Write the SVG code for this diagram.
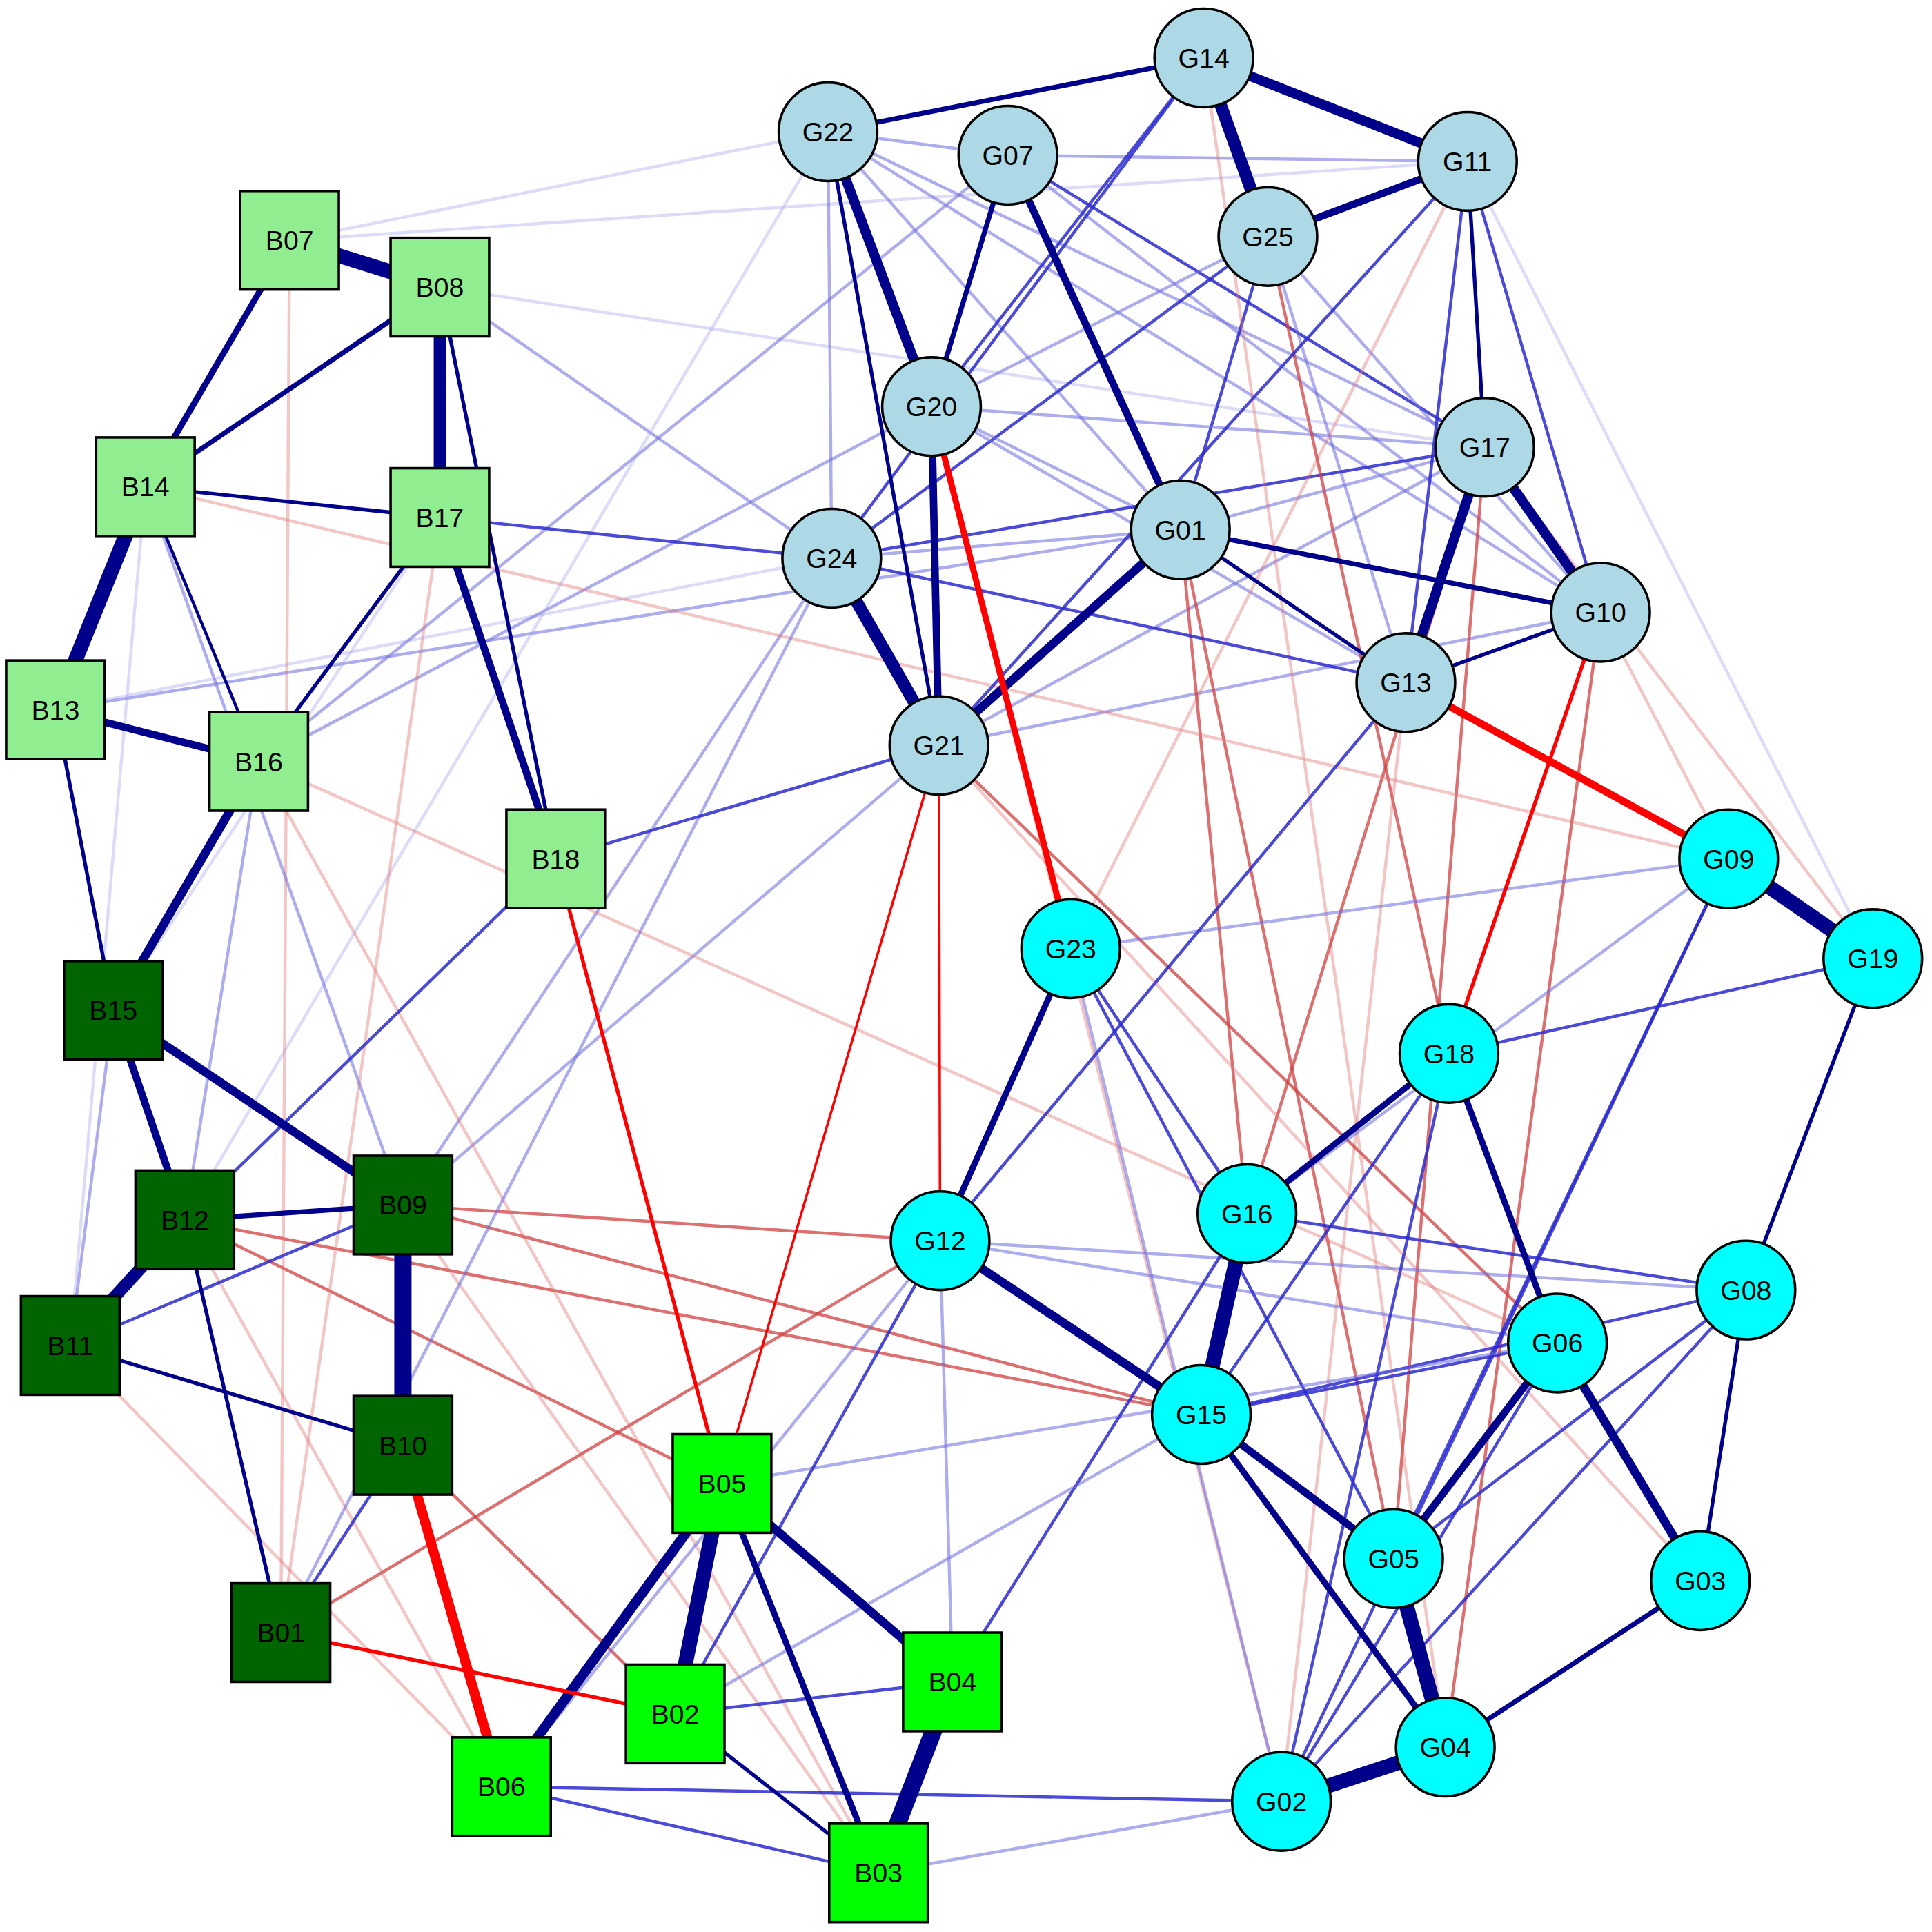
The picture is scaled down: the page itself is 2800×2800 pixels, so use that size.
<svg xmlns="http://www.w3.org/2000/svg" width="2800" height="2800" viewBox="0 0 2800 2800">
<style>
line{stroke-linecap:round}
.b1{stroke:#00008B}
.b2{stroke:#2a2ad0;stroke-opacity:.85;stroke-width:2.5}
.b3{stroke:#6a6ae0;stroke-opacity:.55;stroke-width:2.5}
.b4{stroke:#9a9aea;stroke-opacity:.35;stroke-width:2.5}
.r1{stroke:#ff0000}
.r2{stroke:#d04040;stroke-opacity:.75;stroke-width:2.5}
.r3{stroke:#e07070;stroke-opacity:.4;stroke-width:2.5}
rect,circle{stroke:#000;stroke-width:2}
.lg{fill:#90EE90}.dg{fill:#006400}.bg{fill:#00FF00}.lb{fill:#ADD8E6}.cy{fill:#00FFFF}
text{font-family:"Liberation Sans",Arial,sans-serif;font-size:22px;text-anchor:middle;dominant-baseline:central;fill:#000}
</style>
<rect x="0" y="0" width="2800" height="2800" fill="#fff" style="stroke:none"/>
<g transform="scale(1.7857)">
<g id="connectors">
<!-- faint -->
<line class="b4" x1="235" y1="195" x2="1191" y2="131"/>
<line class="b4" x1="235" y1="195" x2="672" y2="107"/>
<line class="b3" x1="45" y1="576" x2="958" y2="430"/>
<line class="b4" x1="45" y1="576" x2="675" y2="453"/>
<line class="b3" x1="357" y1="233" x2="675" y2="453"/>
<line class="b4" x1="357" y1="233" x2="1205" y2="363"/>
<line class="b3" x1="210" y1="618" x2="756" y2="330"/>
<line class="b3" x1="210" y1="618" x2="818" y2="126"/>
<line class="b3" x1="327" y1="978" x2="675" y2="453"/>
<line class="b3" x1="327" y1="978" x2="762" y2="605"/>
<line class="b4" x1="150" y1="990" x2="672" y2="107"/>
<line class="b4" x1="57" y1="1092" x2="118" y2="395"/>
<line class="b4" x1="92" y1="820" x2="357" y2="420"/>
<line class="b3" x1="672" y1="107" x2="818" y2="126"/>
<line class="b3" x1="672" y1="107" x2="1205" y2="363"/>
<line class="b3" x1="672" y1="107" x2="958" y2="430"/>
<line class="b3" x1="672" y1="107" x2="1299" y2="497"/>
<line class="b3" x1="672" y1="107" x2="675" y2="453"/>
<line class="b3" x1="818" y1="126" x2="1191" y2="131"/>
<line class="b2" x1="818" y1="126" x2="1205" y2="363"/>
<line class="b3" x1="818" y1="126" x2="1299" y2="497"/>
<line class="b2" x1="977" y1="47" x2="756" y2="330"/>
<line class="b2" x1="977" y1="47" x2="675" y2="453"/>
<line class="b3" x1="1029" y1="192" x2="756" y2="330"/>
<line class="b2" x1="1029" y1="192" x2="675" y2="453"/>
<line class="b2" x1="1029" y1="192" x2="958" y2="430"/>
<line class="b3" x1="1029" y1="192" x2="1141" y2="554"/>
<line class="b3" x1="1029" y1="192" x2="1299" y2="497"/>
<line class="b3" x1="756" y1="330" x2="1205" y2="363"/>
<line class="b3" x1="756" y1="330" x2="958" y2="430"/>
<line class="b3" x1="756" y1="330" x2="1141" y2="554"/>
<line class="b2" x1="675" y1="453" x2="1205" y2="363"/>
<line class="b3" x1="675" y1="453" x2="958" y2="430"/>
<line class="b3" x1="762" y1="605" x2="1205" y2="363"/>
<line class="b3" x1="762" y1="605" x2="1299" y2="497"/>
<line class="b3" x1="958" y1="430" x2="1205" y2="363"/>
<line class="b4" x1="977" y1="47" x2="1191" y2="131"/>
<line class="b4" x1="1191" y1="131" x2="1520" y2="778"/>
<line class="r3" x1="977" y1="47" x2="1173" y2="1418"/>
<line class="r3" x1="1191" y1="131" x2="869" y2="770"/>
<line class="r2" x1="1029" y1="192" x2="1176" y2="855"/>
<line class="r2" x1="1205" y1="363" x2="1012" y2="985"/>
<line class="r2" x1="1205" y1="363" x2="1131" y2="1265"/>
<line class="r3" x1="1205" y1="363" x2="1520" y2="778"/>
<line class="r2" x1="958" y1="430" x2="1012" y2="985"/>
<line class="r2" x1="958" y1="430" x2="1131" y2="1265"/>
<line class="r2" x1="1299" y1="497" x2="1173" y2="1418"/>
<line class="r3" x1="1299" y1="497" x2="1403" y2="697"/>
<line class="r3" x1="1141" y1="554" x2="1040" y2="1462"/>
<line class="r3" x1="762" y1="605" x2="1380" y2="1283"/>
<line class="r2" x1="762" y1="605" x2="1264" y2="1090"/>
<line class="r3" x1="756" y1="330" x2="1040" y2="1462"/>
<line class="r2" x1="327" y1="978" x2="763" y2="1007"/>
<line class="r2" x1="327" y1="978" x2="975" y2="1148"/>
<line class="r2" x1="150" y1="990" x2="975" y2="1148"/>
<line class="r2" x1="150" y1="990" x2="586" y2="1204"/>
<line class="r2" x1="228" y1="1325" x2="763" y2="1007"/>
<line class="r2" x1="327" y1="1173" x2="548" y2="1391"/>
<line class="r3" x1="327" y1="978" x2="713" y2="1520"/>
<line class="r3" x1="118" y1="395" x2="1403" y2="697"/>
<line class="r3" x1="357" y1="420" x2="228" y2="1325"/>
<line class="r3" x1="210" y1="618" x2="713" y2="1520"/>
<line class="r3" x1="210" y1="618" x2="1264" y2="1090"/>
<line class="r3" x1="235" y1="195" x2="228" y2="1325"/>
<line class="r3" x1="57" y1="1092" x2="407" y2="1450"/>
<line class="r3" x1="150" y1="990" x2="407" y2="1450"/>
<line class="b3" x1="763" y1="1007" x2="1417" y2="1047"/>
<line class="b3" x1="763" y1="1007" x2="1264" y2="1090"/>
<line class="b2" x1="1012" y1="985" x2="1417" y2="1047"/>
<line class="b2" x1="975" y1="1148" x2="1264" y2="1090"/>
<line class="b2" x1="975" y1="1148" x2="1417" y2="1047"/>
<line class="b3" x1="1403" y1="697" x2="1012" y2="985"/>
<line class="b2" x1="1403" y1="697" x2="1131" y2="1265"/>
<line class="b2" x1="1403" y1="697" x2="1040" y2="1462"/>
<line class="b2" x1="1417" y1="1047" x2="1040" y2="1462"/>
<line class="b2" x1="1417" y1="1047" x2="1131" y2="1265"/>
<line class="b2" x1="1264" y1="1090" x2="1040" y2="1462"/>
<line class="b2" x1="1176" y1="855" x2="1040" y2="1462"/>
<line class="b2" x1="1176" y1="855" x2="1520" y2="778"/>
<line class="b3" x1="869" y1="770" x2="1403" y2="697"/>
<line class="b2" x1="869" y1="770" x2="1131" y2="1265"/>
<line class="b3" x1="869" y1="770" x2="1040" y2="1462"/>
<line class="b3" x1="586" y1="1204" x2="1264" y2="1090"/>
<line class="b2" x1="773" y1="1365" x2="1012" y2="985"/>
<line class="b2" x1="548" y1="1391" x2="763" y2="1007"/>
<line class="b2" x1="407" y1="1450" x2="1040" y2="1462"/>
<line class="b3" x1="713" y1="1520" x2="1040" y2="1462"/>
<line class="b3" x1="548" y1="1391" x2="975" y2="1148"/>
<line class="b3" x1="407" y1="1450" x2="763" y2="1007"/>
<line class="b3" x1="773" y1="1365" x2="763" y2="1007"/>
<line class="b3" x1="228" y1="1325" x2="675" y2="453"/>
<line class="b3" x1="118" y1="395" x2="327" y2="978"/>
<line class="b3" x1="210" y1="618" x2="150" y2="990"/>
<line class="b3" x1="92" y1="820" x2="57" y2="1092"/>
<!-- medium -->
<line class="b2" x1="357" y1="420" x2="675" y2="453"/>
<line class="b2" x1="451" y1="697" x2="762" y2="605"/>
<line class="b2" x1="150" y1="990" x2="451" y2="697"/>
<line class="b2" x1="57" y1="1092" x2="327" y2="978"/>
<line class="b2" x1="228" y1="1325" x2="327" y2="1173"/>
<line class="b2" x1="1191" y1="131" x2="762" y2="605"/>
<line class="b2" x1="1141" y1="554" x2="763" y2="1007"/>
<line class="b2" x1="869" y1="770" x2="1012" y2="985"/>
<line class="b2" x1="1191" y1="131" x2="1141" y2="554"/>
<line class="b2" x1="1191" y1="131" x2="1299" y2="497"/>
<line class="b2" x1="675" y1="453" x2="1141" y2="554"/>
<line class="b2" x1="548" y1="1391" x2="773" y2="1365"/>
<line class="b2" x1="407" y1="1450" x2="713" y2="1520"/>
<line class="b2" x1="1176" y1="855" x2="975" y2="1148"/>
<!-- strong -->
<g class="b1">
<line x1="235" y1="195" x2="357" y2="233" stroke-width="12"/>
<line x1="357" y1="233" x2="357" y2="420" stroke-width="10"/>
<line x1="118" y1="395" x2="45" y2="576" stroke-width="12"/>
<line x1="235" y1="195" x2="118" y2="395" stroke-width="5"/>
<line x1="357" y1="233" x2="118" y2="395" stroke-width="4"/>
<line x1="357" y1="233" x2="451" y2="697" stroke-width="3"/>
<line x1="357" y1="420" x2="451" y2="697" stroke-width="6"/>
<line x1="357" y1="420" x2="210" y2="618" stroke-width="3"/>
<line x1="118" y1="395" x2="357" y2="420" stroke-width="3"/>
<line x1="118" y1="395" x2="210" y2="618" stroke-width="2.5"/>
<line x1="45" y1="576" x2="210" y2="618" stroke-width="6"/>
<line x1="210" y1="618" x2="92" y2="820" stroke-width="7"/>
<line x1="45" y1="576" x2="92" y2="820" stroke-width="3"/>
<line x1="92" y1="820" x2="150" y2="990" stroke-width="6"/>
<line x1="92" y1="820" x2="327" y2="978" stroke-width="7"/>
<line x1="150" y1="990" x2="57" y2="1092" stroke-width="10"/>
<line x1="150" y1="990" x2="327" y2="978" stroke-width="4"/>
<line x1="327" y1="978" x2="327" y2="1173" stroke-width="14"/>
<line x1="57" y1="1092" x2="327" y2="1173" stroke-width="3"/>
<line x1="150" y1="990" x2="228" y2="1325" stroke-width="3"/>
<line x1="586" y1="1204" x2="548" y2="1391" stroke-width="12"/>
<line x1="586" y1="1204" x2="407" y2="1450" stroke-width="8"/>
<line x1="586" y1="1204" x2="713" y2="1520" stroke-width="5"/>
<line x1="586" y1="1204" x2="773" y2="1365" stroke-width="7"/>
<line x1="773" y1="1365" x2="713" y2="1520" stroke-width="14"/>
<line x1="548" y1="1391" x2="713" y2="1520" stroke-width="3"/>
<line x1="672" y1="107" x2="977" y2="47" stroke-width="4"/>
<line x1="977" y1="47" x2="1191" y2="131" stroke-width="8"/>
<line x1="977" y1="47" x2="1029" y2="192" stroke-width="10"/>
<line x1="1029" y1="192" x2="1191" y2="131" stroke-width="6"/>
<line x1="672" y1="107" x2="756" y2="330" stroke-width="8"/>
<line x1="672" y1="107" x2="762" y2="605" stroke-width="3"/>
<line x1="818" y1="126" x2="756" y2="330" stroke-width="4"/>
<line x1="818" y1="126" x2="958" y2="430" stroke-width="6"/>
<line x1="756" y1="330" x2="762" y2="605" stroke-width="6"/>
<line x1="675" y1="453" x2="762" y2="605" stroke-width="10"/>
<line x1="958" y1="430" x2="762" y2="605" stroke-width="7"/>
<line x1="958" y1="430" x2="1299" y2="497" stroke-width="4"/>
<line x1="958" y1="430" x2="1141" y2="554" stroke-width="3"/>
<line x1="1191" y1="131" x2="1205" y2="363" stroke-width="3"/>
<line x1="1205" y1="363" x2="1299" y2="497" stroke-width="8"/>
<line x1="1205" y1="363" x2="1141" y2="554" stroke-width="8"/>
<line x1="1141" y1="554" x2="1299" y2="497" stroke-width="3"/>
<line x1="1403" y1="697" x2="1520" y2="778" stroke-width="12"/>
<line x1="1520" y1="778" x2="1417" y2="1047" stroke-width="3"/>
<line x1="869" y1="770" x2="763" y2="1007" stroke-width="5"/>
<line x1="763" y1="1007" x2="975" y2="1148" stroke-width="7"/>
<line x1="1176" y1="855" x2="1012" y2="985" stroke-width="5"/>
<line x1="1176" y1="855" x2="1264" y2="1090" stroke-width="5"/>
<line x1="1012" y1="985" x2="975" y2="1148" stroke-width="12"/>
<line x1="975" y1="1148" x2="1131" y2="1265" stroke-width="6"/>
<line x1="975" y1="1148" x2="1173" y2="1418" stroke-width="5"/>
<line x1="1264" y1="1090" x2="1131" y2="1265" stroke-width="6"/>
<line x1="1264" y1="1090" x2="1380" y2="1283" stroke-width="7"/>
<line x1="1131" y1="1265" x2="1173" y2="1418" stroke-width="12"/>
<line x1="1173" y1="1418" x2="1040" y2="1462" stroke-width="12"/>
<line x1="1173" y1="1418" x2="1380" y2="1283" stroke-width="4"/>
<line x1="1417" y1="1047" x2="1380" y2="1283" stroke-width="3"/>
</g>
<g class="r1">
<line x1="327" y1="1173" x2="407" y2="1450" stroke-width="8"/>
<line x1="228" y1="1325" x2="548" y2="1391" stroke-width="3"/>
<line x1="451" y1="697" x2="586" y2="1204" stroke-width="3"/>
<line x1="762" y1="605" x2="586" y2="1204" stroke-width="2"/>
<line x1="762" y1="605" x2="763" y2="1007" stroke-width="2"/>
<line x1="756" y1="330" x2="869" y2="770" stroke-width="5"/>
<line x1="1141" y1="554" x2="1403" y2="697" stroke-width="6"/>
<line x1="1299" y1="497" x2="1176" y2="855" stroke-width="3"/>
</g>
</g>
<g id="B07"><rect class="lg" x="195" y="155" width="80" height="80"/><text x="235" y="195">B07</text></g>
<g id="B08"><rect class="lg" x="317" y="193" width="80" height="80"/><text x="357" y="233">B08</text></g>
<g id="B14"><rect class="lg" x="78" y="355" width="80" height="80"/><text x="118" y="395">B14</text></g>
<g id="B17"><rect class="lg" x="317" y="380" width="80" height="80"/><text x="357" y="420">B17</text></g>
<g id="B13"><rect class="lg" x="5" y="536" width="80" height="80"/><text x="45" y="576">B13</text></g>
<g id="B16"><rect class="lg" x="170" y="578" width="80" height="80"/><text x="210" y="618">B16</text></g>
<g id="B18"><rect class="lg" x="411" y="657" width="80" height="80"/><text x="451" y="697">B18</text></g>
<g id="B15"><rect class="dg" x="52" y="780" width="80" height="80"/><text x="92" y="820">B15</text></g>
<g id="B12"><rect class="dg" x="110" y="950" width="80" height="80"/><text x="150" y="990">B12</text></g>
<g id="B09"><rect class="dg" x="287" y="938" width="80" height="80"/><text x="327" y="978">B09</text></g>
<g id="B11"><rect class="dg" x="17" y="1052" width="80" height="80"/><text x="57" y="1092">B11</text></g>
<g id="B10"><rect class="dg" x="287" y="1133" width="80" height="80"/><text x="327" y="1173">B10</text></g>
<g id="B01"><rect class="dg" x="188" y="1285" width="80" height="80"/><text x="228" y="1325">B01</text></g>
<g id="B05"><rect class="bg" x="546" y="1164" width="80" height="80"/><text x="586" y="1204">B05</text></g>
<g id="B02"><rect class="bg" x="508" y="1351" width="80" height="80"/><text x="548" y="1391">B02</text></g>
<g id="B04"><rect class="bg" x="733" y="1325" width="80" height="80"/><text x="773" y="1365">B04</text></g>
<g id="B06"><rect class="bg" x="367" y="1410" width="80" height="80"/><text x="407" y="1450">B06</text></g>
<g id="B03"><rect class="bg" x="673" y="1480" width="80" height="80"/><text x="713" y="1520">B03</text></g>
<g id="G22"><circle class="lb" cx="672" cy="107" r="40"/><text x="672" y="107">G22</text></g>
<g id="G14"><circle class="lb" cx="977" cy="47" r="40"/><text x="977" y="47">G14</text></g>
<g id="G07"><circle class="lb" cx="818" cy="126" r="40"/><text x="818" y="126">G07</text></g>
<g id="G11"><circle class="lb" cx="1191" cy="131" r="40"/><text x="1191" y="131">G11</text></g>
<g id="G25"><circle class="lb" cx="1029" cy="192" r="40"/><text x="1029" y="192">G25</text></g>
<g id="G20"><circle class="lb" cx="756" cy="330" r="40"/><text x="756" y="330">G20</text></g>
<g id="G17"><circle class="lb" cx="1205" cy="363" r="40"/><text x="1205" y="363">G17</text></g>
<g id="G01"><circle class="lb" cx="958" cy="430" r="40"/><text x="958" y="430">G01</text></g>
<g id="G24"><circle class="lb" cx="675" cy="453" r="40"/><text x="675" y="453">G24</text></g>
<g id="G10"><circle class="lb" cx="1299" cy="497" r="40"/><text x="1299" y="497">G10</text></g>
<g id="G13"><circle class="lb" cx="1141" cy="554" r="40"/><text x="1141" y="554">G13</text></g>
<g id="G21"><circle class="lb" cx="762" cy="605" r="40"/><text x="762" y="605">G21</text></g>
<g id="G09"><circle class="cy" cx="1403" cy="697" r="40"/><text x="1403" y="697">G09</text></g>
<g id="G23"><circle class="cy" cx="869" cy="770" r="40"/><text x="869" y="770">G23</text></g>
<g id="G19"><circle class="cy" cx="1520" cy="778" r="40"/><text x="1520" y="778">G19</text></g>
<g id="G18"><circle class="cy" cx="1176" cy="855" r="40"/><text x="1176" y="855">G18</text></g>
<g id="G12"><circle class="cy" cx="763" cy="1007" r="40"/><text x="763" y="1007">G12</text></g>
<g id="G16"><circle class="cy" cx="1012" cy="985" r="40"/><text x="1012" y="985">G16</text></g>
<g id="G08"><circle class="cy" cx="1417" cy="1047" r="40"/><text x="1417" y="1047">G08</text></g>
<g id="G06"><circle class="cy" cx="1264" cy="1090" r="40"/><text x="1264" y="1090">G06</text></g>
<g id="G15"><circle class="cy" cx="975" cy="1148" r="40"/><text x="975" y="1148">G15</text></g>
<g id="G05"><circle class="cy" cx="1131" cy="1265" r="40"/><text x="1131" y="1265">G05</text></g>
<g id="G03"><circle class="cy" cx="1380" cy="1283" r="40"/><text x="1380" y="1283">G03</text></g>
<g id="G04"><circle class="cy" cx="1173" cy="1418" r="40"/><text x="1173" y="1418">G04</text></g>
<g id="G02"><circle class="cy" cx="1040" cy="1462" r="40"/><text x="1040" y="1462">G02</text></g>
</g>
</svg>
